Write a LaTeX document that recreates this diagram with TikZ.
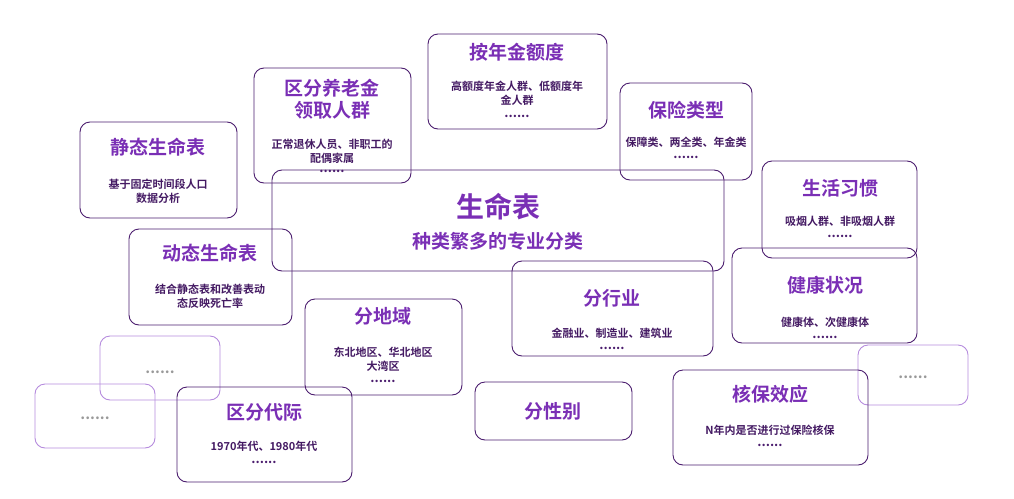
\documentclass[tikz,border=0pt]{standalone}
\usepackage{fontspec}
\newfontfamily\cjk{Noto Sans CJK SC}
\newfontfamily\cjkb{Noto Sans CJK SC Bold}
\definecolor{tp}{HTML}{7A2FB5}
\definecolor{bd}{HTML}{4B1D6E}
\definecolor{lb}{HTML}{B58BDD}
\begin{document}
\begin{tikzpicture}[x=1pt,y=-1pt,
 box/.style={draw=bd,line width=0.9pt,rounded corners=10pt},
 lbox/.style={draw=lb,line width=0.9pt,rounded corners=10pt},
 ttl/.style={text=tp,font=\cjkb\fontsize{19}{22}\selectfont,align=center},
 dsc/.style={text=bd!90!black,font=\cjkb\fontsize{11}{14}\selectfont,align=center,inner sep=0.5pt},
 dt/.style={text=bd,font=\cjkb\fontsize{13}{13}\selectfont,inner sep=0.5pt},
 gdt/.style={text=gray!80,font=\cjkb\fontsize{15}{15}\selectfont,inner xsep=0pt}]
\useasboundingbox (0,0) rectangle (1014,498);
% static
\draw[box] (80,122) rectangle (237,218);
\node[ttl] (t1) at (158,147) {静态生命表};
\node[dsc] (d1) at (158,191) {基于固定时间段人口\\数据分析};
% pension
\draw[box] (254,68) rectangle (411,183);
\node[ttl] (t2) at (332,99) {区分养老金\\领取人群};
\node[dsc] (d2) at (332,151) {正常退休人员、非职工的\\配偶家属};
\node[dt] (o2) at (332,171) {......};
% annuity
\draw[box] (428,34) rectangle (607,129);
\node[ttl] (t3) at (517,52) {按年金额度};
\node[dsc] (d3) at (517,93) {高额度年金人群、低额度年\\金人群};
\node[dt] (o3) at (517,116) {......};
% insurance type
\draw[box] (620,83) rectangle (752,180);
\node[ttl] (t4) at (686,110) {保险类型};
\node[dsc] (d4) at (686,142) {保障类、两全类、年金类};
\node[dt] (o4) at (686,157) {......};
% central
\draw[box] (272,170) rectangle (724,271);
\node[text=tp,font=\cjkb\fontsize{28}{30}\selectfont] (c1) at (498,207) {生命表};
\node[text=tp,font=\cjkb\fontsize{19}{22}\selectfont] (c2) at (498,241) {种类繁多的专业分类};
% habits
\draw[box] (762,161) rectangle (917,258);
\node[ttl] (t5) at (840,188) {生活习惯};
\node[dsc] (d5) at (840,221) {吸烟人群、非吸烟人群};
\node[dt] (o5) at (840,236) {......};
% dynamic
\draw[box] (129,229) rectangle (292,325);
\node[ttl] (t6) at (210,253) {动态生命表};
\node[dsc] (d6) at (210,296) {结合静态表和改善表动\\态反映死亡率};
% health
\draw[box] (732,248) rectangle (917,343);
\node[ttl] (t7) at (825,285) {健康状况};
\node[dsc] (d7) at (825,322) {健康体、次健康体};
\node[dt] (o7) at (825,337) {......};
% industry
\draw[box] (512,261) rectangle (713,356);
\node[ttl] (t8) at (612,298) {分行业};
\node[dsc] (d8) at (612,333) {金融业、制造业、建筑业};
\node[dt] (o8) at (612,348) {......};
% region
\draw[box] (305,299) rectangle (462,395);
\node[ttl] (t9) at (383,316) {分地域};
\node[dsc] (d9) at (383,359) {东北地区、华北地区\\大湾区};
\node[dt] (o9) at (383,381) {......};
% light dots boxes
\draw[lbox] (100,336) rectangle (220,400);
\node[gdt] (g1) at (160,372) {......};
\draw[lbox] (35,384) rectangle (155,448);
\node[gdt] (g2) at (95,418) {......};
\draw[lbox] (858,345) rectangle (968,405);
\node[gdt] (g3) at (913,377) {......};
% generation
\draw[box] (177,387) rectangle (352,482);
\node[ttl] (t10) at (264,412) {区分代际};
\node[dsc] (d10) at (264,446) {1970年代、1980年代};
\node[dt] (o10) at (264,462) {......};
% gender
\draw[box] (475,382) rectangle (632,440);
\node[ttl] (t11) at (553,411) {分性别};
% underwriting
\draw[box] (673,370) rectangle (868,465);
\node[ttl] (t12) at (770,394) {核保效应};
\node[dsc] (d12) at (770,430) {N年内是否进行过保险核保};
\node[dt] (o12) at (770,445) {......};
\end{tikzpicture}
\end{document}
